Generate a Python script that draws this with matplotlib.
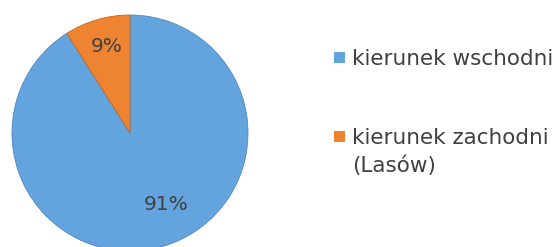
import matplotlib.pyplot as plt
from matplotlib.patches import Rectangle

labels = ['kierunek wschodni', 'kierunek zachodni\n(Lasów)']
shares = [91, 9]
colors = ['#63A3DE', '#EE8431']
# label spots in pie radii
pct_xy = [(0.305, -0.61), (-0.195, 0.735)]

plt.rcParams['font.family'] = ['DejaVu Sans']

fig = plt.figure(figsize=(5.6, 2.47), dpi=100)
ax = fig.add_axes([12 / 560, -4 / 247, 236 / 560, 236 / 247])

wedges, texts, autotexts = ax.pie(
    shares, colors=colors, startangle=90, counterclock=False,
    autopct='%d%%', radius=1,
    wedgeprops={'edgecolor': '#4F88BE', 'linewidth': 0.6},
    textprops={'fontsize': 14.5, 'color': '#404040'})
wedges[1].set_edgecolor('#C8661E')
for t, xy in zip(autotexts, pct_xy):
    t.set_position(xy)
ax.set_xlim(-1, 1)
ax.set_ylim(-1, 1)
ax.set_aspect('equal')

# legend drawn by hand so the marker sits on the first text line
baselines = [65, 144]
for lab, c, yb in zip(labels, colors, baselines):
    fig.patches.append(Rectangle((334 / 560, 1 - (yb - 2) / 247), 11 / 560, 11 / 247,
                                 facecolor=c, edgecolor='none',
                                 transform=fig.transFigure, figure=fig))
    for k, line in enumerate(lab.split('\n')):
        fig.text(352 / 560, 1 - (yb + 28 * k) / 247, line, fontsize=15.5,
                 color='#404040', va='baseline', ha='left')

fig.savefig('out.png', dpi=100)
